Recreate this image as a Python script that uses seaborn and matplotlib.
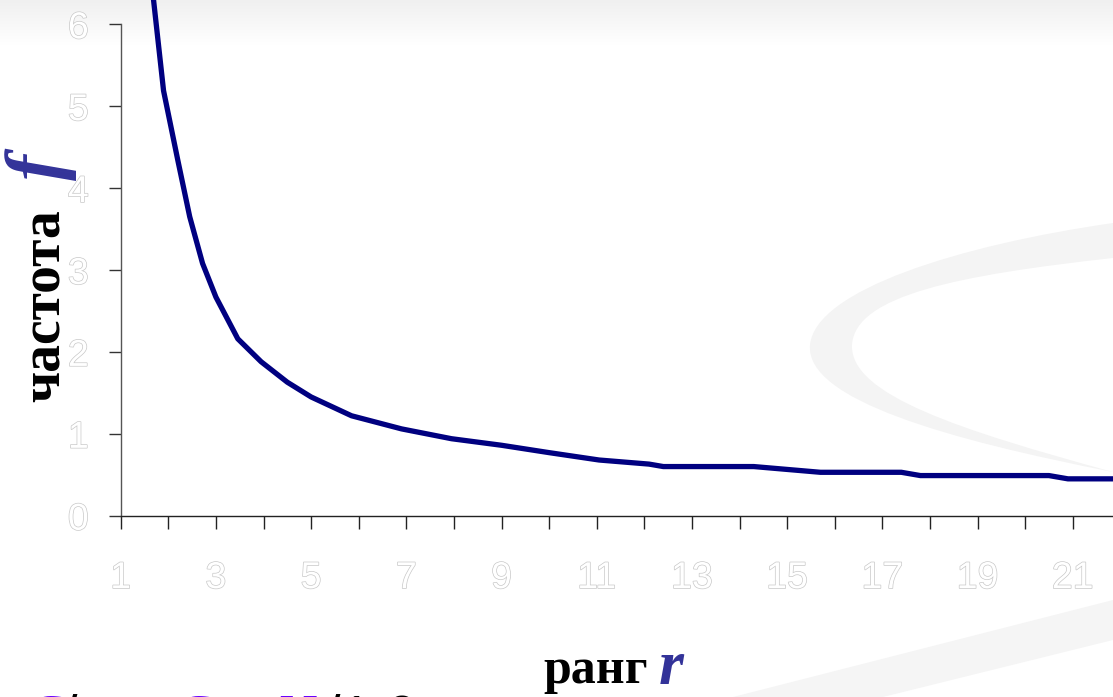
import numpy as np
import matplotlib
matplotlib.use("Agg")
import matplotlib.pyplot as plt
import matplotlib.patheffects as pe
from matplotlib.colors import LinearSegmentedColormap
from matplotlib.patches import PathPatch, Polygon
from matplotlib.path import Path
import seaborn as sns

# rank / frequency
rank = [1.5, 1.9, 2.2, 2.45, 2.72, 3.0, 3.46, 3.95, 4.5, 5.0, 5.85, 6.9, 7.95,
        9.0, 10.0, 11.05, 12.1, 12.4, 14.3, 15.7, 17.4, 17.8, 20.5, 20.9, 22.0]
freq = [7.3, 5.19, 4.34, 3.65, 3.08, 2.67, 2.16, 1.88, 1.63, 1.45, 1.22, 1.06, 0.94,
        0.86, 0.77, 0.68, 0.63, 0.60, 0.60, 0.53, 0.53, 0.49, 0.49, 0.45, 0.45]

x_ticks = list(range(1, 22))
x_labels = [str(t) if t % 2 else "" for t in x_ticks]
y_ticks = [0, 1, 2, 3, 4, 5, 6]

W, H = 1113, 697

sns.set_style("ticks")
plt.rcParams["font.family"] = ["Liberation Sans", "DejaVu Sans"]

fig = plt.figure(figsize=(W / 100, H / 100), dpi=100)

# slide background decoration
bg = fig.add_axes([0, 0, 1, 1], zorder=-1)
bg.set_xlim(0, W)
bg.set_ylim(H, 0)
bg.axis("off")
grad = LinearSegmentedColormap.from_list("g", ["#f0f0f0", "#ffffff"])
bg.imshow(np.linspace(0, 1, 60)[:, None], extent=[0, W, 45, 0], cmap=grad, aspect="auto")
swoosh = Path(
    [(1113, 223), (960, 245), (815, 290), (810, 345), (805, 400), (950, 440), (1113, 472),
     (960, 430), (850, 395), (852, 345), (855, 295), (960, 275), (1113, 258), (1113, 223)],
    [Path.MOVETO, Path.CURVE4, Path.CURVE4, Path.CURVE4, Path.CURVE4, Path.CURVE4, Path.CURVE4,
     Path.CURVE4, Path.CURVE4, Path.CURVE4, Path.CURVE4, Path.CURVE4, Path.CURVE4, Path.CLOSEPOLY])
bg.add_patch(PathPatch(swoosh, facecolor="#f4f4f4", edgecolor="none"))
bg.add_patch(Polygon([(733, 697), (1113, 600), (1113, 640), (883, 697)],
                     facecolor="#f5f5f5", edgecolor="none"))

# main chart
x0, y0 = 120.7, 515.7
px_x, px_y = 47.6, 81.9
ax = fig.add_axes([x0 / W, (H - y0) / H, 1 - x0 / W, 6 * px_y / H])
ax.patch.set_alpha(0)

sns.lineplot(x=rank, y=freq, ax=ax, color="#000080", linewidth=3.8,
             estimator=None, sort=False, clip_on=False)

ax.set_xlim(1, 1 + (W - x0) / px_x)
ax.set_ylim(0, 6)
ax.set_xticks(x_ticks)
ax.set_xticklabels(x_labels)
ax.set_yticks(y_ticks)
ax.set_yticklabels([str(t) for t in y_ticks])
for s in ["top", "right"]:
    ax.spines[s].set_visible(False)
ax.spines["left"].set_color("#555555")
ax.spines["bottom"].set_color("#222222")
ax.spines["left"].set_linewidth(1)
ax.spines["bottom"].set_linewidth(1)
ax.tick_params(axis="x", length=9, width=1, color="#222222", pad=23, labelsize=27)
ax.tick_params(axis="y", length=9, width=1, color="#333333", pad=14, labelsize=27)
ax.set_xlabel("")
ax.set_ylabel("")
hollow = [pe.Stroke(linewidth=1.0, foreground="#c8c8c8"), pe.Normal()]
for lab in ax.get_xticklabels() + ax.get_yticklabels():
    lab.set_color("white")
    lab.set_path_effects(hollow)

# axis titles
serif = ["Liberation Serif", "DejaVu Serif"]
fig.text(60 / W, 1 - 402 / H, "частота", rotation=90, rotation_mode="anchor",
         ha="left", va="baseline", family=serif, weight="bold", fontsize=40, color="black")
fig.text(60 / W, 1 - 180 / H, "f", rotation=90, rotation_mode="anchor",
         ha="left", va="baseline", family=serif, weight="bold", style="italic",
         fontsize=56, color="#333399")
fig.text(543 / W, 1 - 683 / H, "ранг", ha="left", va="baseline", family=serif,
         weight="bold", fontsize=36, color="black")
fig.text(659 / W, 1 - 684 / H, "r", ha="left", va="baseline", family=serif,
         weight="bold", style="italic", fontsize=46, color="#333399")

# formula line cut off at the bottom of the slide
purple = "#6a00ff"
base = 1 - 734 / H
fig.text(25 / W, base, "C", family=serif, style="italic", weight="bold", fontsize=40, color=purple)
fig.text(62 / W, base, "/r,", family=["Liberation Sans"], fontsize=40, color="black")
fig.text(173 / W, base, "C", family=serif, style="italic", weight="bold", fontsize=40, color=purple)
fig.text(232 / W, base, "=", family=["Liberation Sans"], fontsize=40, color="black")
fig.text(275 / W, base, "N", family=serif, style="italic", weight="bold", fontsize=40, color=purple)
fig.text(325 / W, base, "/1 0", family=["Liberation Sans"], fontsize=40, color="black")

fig.savefig("out.png", dpi=100)
